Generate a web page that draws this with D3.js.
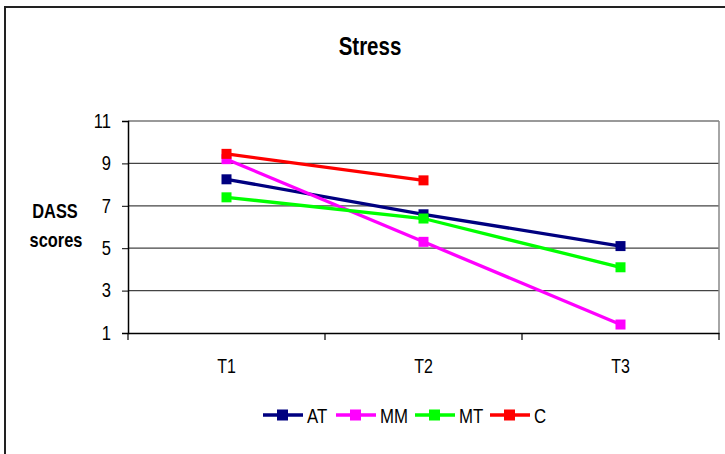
<!DOCTYPE html>
<html><head><meta charset="utf-8">
<script src="https://cdn.jsdelivr.net/npm/d3@7"></script>
<style>
body{margin:0;background:#fff}svg{display:block}
text{font-family:"Liberation Sans",Arial,sans-serif}
.cc{transform-box:fill-box;transform-origin:center;transform:scaleX(0.82)}
.cr{transform-box:fill-box;transform-origin:right center;transform:scaleX(0.85)}
.cl{transform-box:fill-box;transform-origin:left center;transform:scaleX(0.8)}
</style>
</head><body>
<script>
const categories = ["T1","T2","T3"];
const seriesNames = ["AT","MM","MT","C"];
const colors = ["#000080","#ff00ff","#00ff00","#ff0000"];
const AT = [8.25, 6.6, 5.1];
const MM = [9.2, 5.3, 1.4];
const MT = [7.4, 6.4, 4.1];
const C  = [9.45, 8.2, null];
const yTicks = [1,3,5,7,9,11];
const seriesValues = [AT, MM, MT, C];

(function(){
const W = 725, H = 454;
const svg = d3.select("body").append("svg").attr("width", W).attr("height", H);
svg.append("rect").attr("x",5).attr("y",7).attr("width",W+10).attr("height",H+10)
  .attr("fill","#fff").attr("stroke","#222").attr("stroke-width",2);

const pL = 128, pR = 719, pT = 121, pB = 333;
const x = d3.scaleBand().domain(categories).range([pL,pR]);
const y = d3.scaleLinear().domain([1,11]).range([pB,pT]);

svg.append("g").selectAll("line").data(yTicks.filter(d=>d>1)).join("line")
  .attr("x1",pL).attr("x2",pR).attr("y1",d=>y(d)).attr("y2",d=>y(d))
  .attr("stroke",d=>d===11?"#777":"#444").attr("stroke-width",1.3);
svg.append("line").attr("x1",pR).attr("x2",pR).attr("y1",pT).attr("y2",pB)
  .attr("stroke","#888").attr("stroke-width",1.5);

const ya = svg.append("g").attr("transform",`translate(${pL},0)`)
  .call(d3.axisLeft(y).tickValues(yTicks).tickSize(6).tickPadding(11));
ya.select(".domain").attr("stroke","#000").attr("stroke-width",1.5);
ya.selectAll(".tick line").attr("stroke","#000");
ya.selectAll("text").attr("font-size",19.5).attr("fill","#000").attr("class","cr")
  .style("font-family",'"Liberation Sans",Arial,sans-serif');

const xa = svg.append("g").attr("transform",`translate(0,${pB})`)
  .call(d3.axisBottom(x).tickSize(0).tickPadding(26));
xa.select(".domain").attr("stroke","#000").attr("stroke-width",1.5);
xa.selectAll("text").attr("font-size",19.5).attr("fill","#000").attr("class","cc")
  .style("font-family",'"Liberation Sans",Arial,sans-serif');
const bounds = categories.map(c=>x(c)).concat([pR]);
svg.append("g").selectAll("line").data(bounds).join("line")
  .attr("x1",d=>d).attr("x2",d=>d).attr("y1",pB).attr("y2",pB+7)
  .attr("stroke","#000").attr("stroke-width",1.2);

svg.append("text").attr("x",370).attr("y",55).attr("text-anchor","middle").attr("class","cc")
  .attr("font-size",25).attr("font-weight","bold").text("Stress");
svg.append("text").attr("x",55).attr("y",218).attr("text-anchor","middle").attr("class","cc")
  .attr("font-size",20).attr("font-weight","bold").text("DASS");
svg.append("text").attr("x",56).attr("y",247).attr("text-anchor","middle").attr("class","cc")
  .attr("font-size",20).attr("font-weight","bold").text("scores");

const cx = c => x(c) + x.bandwidth()/2;
const line = d3.line().defined(d=>d.v!=null).x(d=>cx(d.c)).y(d=>y(d.v));
seriesValues.forEach((vals,i)=>{
  const pts = categories.map((c,j)=>({c, v: vals[j]}));
  svg.append("path").attr("d",line(pts)).attr("fill","none")
    .attr("stroke",colors[i]).attr("stroke-width",3.3);
  svg.append("g").selectAll("rect").data(pts.filter(d=>d.v!=null)).join("rect")
    .attr("x",d=>cx(d.c)-5).attr("y",d=>y(d.v)-5).attr("width",10).attr("height",10)
    .attr("fill",colors[i]);
});

const legX = [263, 336, 415, 490];
const legY = 415;
seriesNames.forEach((n,i)=>{
  const g = svg.append("g").attr("transform",`translate(${legX[i]},${legY})`);
  g.append("line").attr("x1",0).attr("x2",40).attr("y1",0).attr("y2",0)
    .attr("stroke",colors[i]).attr("stroke-width",3.3);
  g.append("rect").attr("x",14).attr("y",-5.5).attr("width",11).attr("height",11).attr("fill",colors[i]);
  g.append("text").attr("x",44).attr("y",7.5).attr("font-size",21).attr("class","cl").text(n);
});
})();
</script>
</body></html>
